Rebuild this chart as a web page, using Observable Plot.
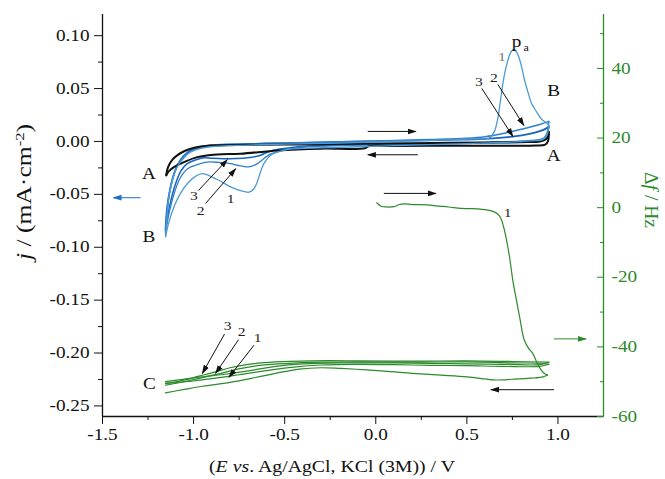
<!DOCTYPE html>
<html><head><meta charset="utf-8">
<script src="https://cdn.jsdelivr.net/npm/d3@7"></script>
<script src="https://cdn.jsdelivr.net/npm/@observablehq/plot@0.6"></script>
<style>body{margin:0;background:#fff}#chart{position:absolute;left:0;top:0}</style>
</head><body><div id="chart"></div>
<script>
// ---------- data (E / V, j / mA cm-2) ----------
const blackFwd = [[-1.15,-0.032],[-1.145,-0.027],[-1.136,-0.0227],[-1.115,-0.017],[-1.09,-0.0132],[-1.055,-0.0095],[-1.016,-0.0069],[-0.96,-0.0048],[-0.907,-0.0038],[-0.7,-0.0032],[-0.5,-0.003],[-0.2,-0.0025],[0.0,-0.002],[0.3,-0.0015],[0.6,-0.001],[0.8,-0.0005],[0.9,0.0],[0.94,0.003],[0.95,0.009]];
const blackRev = [[0.95,0.009],[0.945,0.0],[0.93,-0.003],[0.88,-0.0038],[0.7,-0.004],[0.4,-0.004],[0.1,-0.0042],[-0.04,-0.0045],[-0.06,-0.0065],[-0.3,-0.0068],[-0.54,-0.0085],[-0.742,-0.0116],[-0.87,-0.0123],[-0.98,-0.0148],[-1.053,-0.0196],[-1.108,-0.0243],[-1.135,-0.028],[-1.15,-0.032]];
const cv1Fwd = [[-1.154,-0.090],[-1.145,-0.07],[-1.136,-0.053],[-1.115,-0.036],[-1.09,-0.024],[-1.05,-0.015],[-1.016,-0.010],[-0.96,-0.0065],[-0.907,-0.005],[-0.7,-0.0035],[-0.5,-0.0025],[-0.2,-0.0015],[0.0,-0.0005],[0.2,0.0005],[0.4,0.0015],[0.55,0.0025],[0.62,0.003],[0.65,0.009],[0.67,0.022],[0.687,0.042],[0.705,0.062],[0.724,0.076],[0.74,0.084],[0.757,0.087],[0.775,0.084],[0.797,0.073],[0.815,0.059],[0.833,0.048],[0.855,0.036],[0.879,0.029],[0.91,0.021],[0.943,0.0167],[0.95,0.015]];
const cv1Rev = [[0.95,0.015],[0.94,0.006],[0.92,0.002],[0.85,0.0005],[0.7,-0.001],[0.5,-0.002],[0.2,-0.0035],[0.0,-0.0045],[-0.2,-0.0055],[-0.4,-0.0065],[-0.48,-0.0075],[-0.513,-0.0085],[-0.577,-0.013],[-0.614,-0.021],[-0.635,-0.030],[-0.65,-0.038],[-0.67,-0.045],[-0.696,-0.048],[-0.72,-0.0475],[-0.76,-0.0455],[-0.797,-0.043],[-0.87,-0.036],[-0.952,-0.0305],[-0.99,-0.033],[-1.035,-0.040],[-1.075,-0.050],[-1.108,-0.062],[-1.135,-0.076],[-1.154,-0.090]];
const cv2Fwd = [[-1.154,-0.087],[-1.145,-0.066],[-1.132,-0.048],[-1.11,-0.032],[-1.08,-0.020],[-1.04,-0.012],[-1.0,-0.008],[-0.93,-0.0045],[-0.85,-0.003],[-0.6,-0.002],[-0.3,-0.0008],[0.0,0.0005],[0.3,0.0018],[0.5,0.003],[0.6,0.0045],[0.7,0.0075],[0.8,0.0115],[0.9,0.016],[0.95,0.019]];
const cv2Rev = [[0.95,0.019],[0.94,0.008],[0.92,0.003],[0.85,0.001],[0.6,-0.0008],[0.3,-0.002],[0.0,-0.003],[-0.3,-0.0045],[-0.45,-0.0065],[-0.52,-0.009],[-0.577,-0.0117],[-0.62,-0.017],[-0.65,-0.021],[-0.685,-0.0235],[-0.714,-0.024],[-0.76,-0.0225],[-0.797,-0.021],[-0.86,-0.0198],[-0.925,-0.0195],[-0.98,-0.022],[-1.035,-0.026],[-1.075,-0.035],[-1.108,-0.050],[-1.135,-0.068],[-1.154,-0.087]];
const cv3Fwd = [[-1.154,-0.084],[-1.145,-0.062],[-1.125,-0.042],[-1.10,-0.027],[-1.07,-0.017],[-1.03,-0.010],[-0.99,-0.0065],[-0.92,-0.004],[-0.8,-0.003],[-0.5,-0.0015],[-0.2,-0.0005],[0.1,0.0005],[0.4,0.0015],[0.6,0.0025],[0.75,0.0045],[0.85,0.0075],[0.92,0.011],[0.95,0.014]];
const cv3Rev = [[0.95,0.014],[0.94,0.006],[0.92,0.001],[0.85,-0.0005],[0.6,-0.0015],[0.3,-0.0025],[0.0,-0.003],[-0.3,-0.004],[-0.45,-0.0055],[-0.577,-0.009],[-0.64,-0.0135],[-0.705,-0.0155],[-0.77,-0.0162],[-0.833,-0.0164],[-0.9,-0.016],[-0.943,-0.0155],[-0.99,-0.0175],[-1.035,-0.021],[-1.07,-0.028],[-1.099,-0.040],[-1.13,-0.060],[-1.154,-0.084]];
// ---------- data (E / V, Δf / Hz) ----------
const gFwd1 = [[0.005,1.4],[0.03,0.4],[0.06,0.2],[0.101,0.3],[0.13,0.9],[0.155,1.1],[0.2,0.9],[0.284,0.8],[0.33,0.5],[0.4,0.2],[0.467,-0.2],[0.53,-0.3],[0.614,-0.7],[0.65,-1.2],[0.67,-1.9],[0.687,-3.1],[0.70,-5.2],[0.714,-8.3],[0.734,-14.1],[0.752,-20.8],[0.77,-26],[0.79,-31.5],[0.815,-38.0],[0.84,-40.5],[0.861,-41.8],[0.885,-44.5],[0.907,-46.6],[0.93,-47.8],[0.943,-48.1]];
const gRev1 = [[0.943,-48.1],[0.92,-48.6],[0.85,-49.0],[0.75,-49.3],[0.65,-49.5],[0.6,-49.2],[0.5,-48.6],[0.357,-48.1],[0.2,-47.6],[0.082,-47.1],[-0.05,-46.6],[-0.192,-46.2],[-0.3,-46.0],[-0.42,-46.4],[-0.55,-47.6],[-0.66,-48.8],[-0.8,-50.2],[-0.95,-51.3],[-1.05,-52.2],[-1.154,-53.2]];
const gFwd2 = [[-1.154,-51.0],[-1.08,-50.3],[-1.0,-49.4],[-0.92,-48.4],[-0.85,-47.6],[-0.76,-46.4],[-0.65,-45.4],[-0.5,-44.8],[-0.3,-44.4],[-0.1,-44.3],[0.2,-44.4],[0.5,-44.3],[0.75,-44.6],[0.9,-44.7],[0.95,-45.0]];
const gRev2 = [[0.95,-45.0],[0.9,-45.6],[0.7,-45.6],[0.5,-45.4],[0.3,-45.3],[0.1,-45.1],[-0.1,-45.0],[-0.3,-45.2],[-0.45,-45.8],[-0.6,-46.8],[-0.75,-48.0],[-0.88,-49.0],[-1.0,-49.8],[-1.154,-50.5]];
const gFwd3 = [[-1.154,-50.5],[-1.06,-49.6],[-0.97,-48.4],[-0.88,-47.2],[-0.8,-46.0],[-0.7,-45.0],[-0.55,-44.3],[-0.35,-44.0],[-0.1,-44.0],[0.2,-44.1],[0.5,-44.0],[0.75,-44.2],[0.95,-44.4]];
const gRev3 = [[0.95,-44.4],[0.9,-45.1],[0.7,-45.0],[0.4,-44.8],[0.1,-44.6],[-0.2,-44.6],[-0.4,-44.9],[-0.55,-45.6],[-0.7,-46.9],[-0.85,-48.0],[-0.97,-48.7],[-1.07,-49.4],[-1.154,-50.0]];
// ---------- ticks ----------
const xMajor = [-1.5,-1.0,-0.5,0.0,0.5,1.0];
const xMinor = [-1.25,-0.75,-0.25,0.25,0.75];
const jMajor = [-0.25,-0.20,-0.15,-0.10,-0.05,0.00,0.05,0.10];
const jMinor = [-0.225,-0.175,-0.125,-0.075,-0.025,0.025,0.075];
const fMajor = [-60,-40,-20,0,20,40];
const fMinor = [-50,-30,-10,10,30,50];
// ---------- annotations ----------
const jLabels = [{E:-1.245,v:-0.0305,t:"A"},{E:-1.245,v:-0.0904,t:"B"},{E:0.976,v:-0.0132,t:"A"},{E:0.976,v:0.048,t:"B"}];
const fLabels = [{E:-1.242,v:-50.5,t:"C"}];
const jCycleLabels = [{E:-0.998,v:-0.051,t:"3"},{E:-0.962,v:-0.0652,t:"2"},{E:-0.797,v:-0.0541,t:"1"},{E:0.648,v:0.0605,t:"2"},{E:0.566,v:0.0567,t:"3"}];
const jPeakLabel = [{E:0.692,v:0.0803,t:"1"}];
const fCycleLabels = [{E:0.724,v:-1.6,t:"1"},{E:-0.813,v:-34.0,t:"3"},{E:-0.736,v:-35.7,t:"2"},{E:-0.648,v:-37.4,t:"1"}];
const jArrows = [{E1:-0.044,v1:0.00945,E2:0.220,v2:0.00945},{E1:0.231,v1:-0.0126,E2:-0.044,v2:-0.0126},{E1:-0.973,v1:-0.0463,E2:-0.815,v2:-0.0173},{E1:-0.934,v1:-0.0586,E2:-0.769,v2:-0.0258},{E1:0.670,v1:0.0539,E2:0.813,v2:0.0151},{E1:0.582,v1:0.0501,E2:0.753,v2:0.0047}];
const fArrows = [{E1:0.044,v1:4.1,E2:0.330,v2:4.1},{E1:0.978,v1:-52.3,E2:0.632,v2:-52.3},{E1:-0.830,v1:-36.3,E2:-0.952,v2:-47.6},{E1:-0.753,v1:-37.9,E2:-0.879,v2:-47.6},{E1:-0.668,v1:-39.5,E2:-0.806,v2:-48.7}];
const blueArrow = [{E1:-1.291,v1:-0.0532,E2:-1.440,v2:-0.0532}];
const greenArrow = [{E1:0.978,v1:-37.7,E2:1.154,v2:-37.7}];

const green = "#2b8a2b";
const fToJ = d3.scaleLinear().domain([-60, 55.5]).range([-0.26, 0.12]);
const asJ = arr => arr.map(([E, v]) => ({E, j: v}));
const asF = arr => arr.map(([E, v]) => ({E, j: fToJ(v)}));
const lblJ = arr => arr.map(d => ({...d, j: d.v}));
const lblF = arr => arr.map(d => ({...d, j: fToJ(d.v)}));
const arrJ = arr => arr.map(d => ({...d, j1: d.v1, j2: d.v2}));
const arrF = arr => arr.map(d => ({...d, j1: fToJ(d.v1), j2: fToJ(d.v2)}));

const line = (arr, stroke, w) => Plot.line(arr, {x: "E", y: "j", stroke, strokeWidth: w, curve: "catmull-rom"});
const link = (arr, stroke, cls) => Plot.link(arr, {x1: "E1", y1: "j1", x2: "E2", y2: "j2", stroke, strokeWidth: 1, className: cls});

const plot = Plot.plot({
  width: 665, height: 479,
  marginLeft: 102, marginRight: 62, marginTop: 14, marginBottom: 63,
  style: {fontFamily: "'Liberation Serif', serif", fontSize: "16px", color: "#111", background: "white"},
  x: {domain: [-1.5, 1.25]},
  y: {domain: [-0.26, 0.12]},
  marks: [
    line(asF(gFwd3), green, 1.2), line(asF(gRev3), green, 1.2),
    line(asF(gFwd2), green, 1.2), line(asF(gRev2), green, 1.2),
    line(asF(gFwd1), green, 1.2), line(asF(gRev1), green, 1.2),
    line(asJ(cv3Fwd), "#1565c0", 1.8), line(asJ(cv3Rev), "#1565c0", 1.5),
    line(asJ(cv2Fwd), "#2f7fcc", 1.5), line(asJ(cv2Rev), "#2f7fcc", 1.3),
    line(asJ(blackFwd), "#111", 2), line(asJ(blackRev), "#111", 2),
    line(asJ(cv1Fwd), "#4c9bd6", 1.3), line(asJ(cv1Rev), "#4c9bd6", 1.3),
    link(arrJ(jArrows), "#111", "arr-k"),
    link(arrF(fArrows), "#111", "arr-k"),
    link(arrJ(blueArrow), "#1f6fc6", "arr-b"),
    link(arrF(greenArrow), green, "arr-g"),
    Plot.text(lblJ(jLabels), {x: "E", y: "j", text: "t", fontSize: 16, fill: "#111"}),
    Plot.text(lblF(fLabels), {x: "E", y: "j", text: "t", fontSize: 16, fill: "#111"}),
    Plot.text(lblJ(jCycleLabels), {x: "E", y: "j", text: "t", fontSize: 13, fill: "#222"}),
    Plot.text(lblJ(jPeakLabel), {x: "E", y: "j", text: "t", fontSize: 13, fill: "#777"}),
    Plot.text(lblF(fCycleLabels), {x: "E", y: "j", text: "t", fontSize: 13, fill: "#222"}),
    Plot.text([{E:0.772,j:0.094,t:"p"}], {x: "E", y: "j", text: "t", fontSize: 16, fill: "#111"}),
    Plot.text([{E:0.826,j:0.0885,t:"a"}], {x: "E", y: "j", text: "t", fontSize: 10, fill: "#111"}),
    Plot.ruleX([-1.5], {stroke: "#111", strokeWidth: 1.3}),
    Plot.ruleY([-0.26], {stroke: "#111", strokeWidth: 1.3}),
    Plot.ruleX([1.25], {stroke: green, strokeWidth: 1.3}),
    Plot.axisX({ticks: xMajor, tickSize: 8, tickPadding: 4, tickFormat: d => d.toFixed(1), label: null, stroke: "#111", fill: "#111"}),
    Plot.axisX({ticks: xMinor, tickSize: 4, tickFormat: () => "", label: null, stroke: "#111"}),
    Plot.axisY({ticks: jMajor, tickSize: 8, tickPadding: 5, tickFormat: d => d.toFixed(2), label: null, stroke: "#111", fill: "#111"}),
    Plot.axisY({ticks: jMinor, tickSize: 4, tickFormat: () => "", label: null, stroke: "#111"}),
    Plot.axisY({anchor: "right", ticks: fMajor.map(fToJ), tickSize: 7, dx: -7, tickFormat: () => "", label: null, stroke: green}),
    Plot.axisY({anchor: "right", ticks: fMinor.map(fToJ), tickSize: 4, dx: -4, tickFormat: () => "", label: null, stroke: green}),
    Plot.axisY({anchor: "right", ticks: fMajor.map(fToJ), tickSize: 0, tickPadding: 8, tickFormat: d => String(Math.round(fToJ.invert(d))), label: null, fill: green})
  ]
});
document.getElementById("chart").appendChild(plot);

const svg = d3.select(plot);
// the reference typesetting is ~1.2x wider than tall: widen horizontal text about its anchor
svg.selectAll("text").each(function() {
  const t = d3.select(this);
  if (!t.text()) return;
  const tr = t.attr("transform");
  if (tr) t.attr("transform", tr + " scale(1.2,1)");
  else {
    const x = +t.attr("x") || 0, y = +t.attr("y") || 0;
    t.attr("x", null).attr("y", null).attr("transform", `translate(${x},${y}) scale(1.2,1)`);
  }
});

// arrow heads
const defs = svg.append("defs");
[["ah-k", "#111"], ["ah-b", "#1f6fc6"], ["ah-g", green]].forEach(([id, c]) => {
  defs.append("marker").attr("id", id).attr("viewBox", "0 0 10 10").attr("refX", 9).attr("refY", 5)
    .attr("markerWidth", 9).attr("markerHeight", 9).attr("markerUnits", "userSpaceOnUse").attr("orient", "auto")
    .append("path").attr("d", "M0,1.8L10,5L0,8.2z").attr("fill", c);
});
svg.selectAll(".arr-k path").attr("marker-end", "url(#ah-k)");
svg.selectAll(".arr-b path").attr("marker-end", "url(#ah-b)");
svg.selectAll(".arr-g path").attr("marker-end", "url(#ah-g)");

// axis titles with italics / superscript
const tx = svg.append("text").attr("transform", "translate(332,472) scale(1.2,1)").attr("text-anchor", "middle")
  .attr("font-size", 16.5).attr("fill", "#111");
tx.append("tspan").text("(");
tx.append("tspan").attr("font-style", "italic").text("E");
tx.append("tspan").text(" ");
tx.append("tspan").attr("font-style", "italic").text("vs");
tx.append("tspan").text(". Ag/AgCl, KCl (3M)) / V");

function fitRotated(sel, cx, cy, angle, len) {
  const w = sel.node().getBBox().width || len;
  sel.attr("transform", `translate(${cx},${cy}) rotate(${angle}) scale(${len / w},1)`);
}
const ty = svg.append("text").attr("text-anchor", "middle").attr("font-size", 20).attr("fill", "#111");
ty.append("tspan").attr("font-style", "italic").text("j");
ty.append("tspan").text(" / (mA·cm");
ty.append("tspan").attr("font-size", 13).attr("dy", -7).text("-2");
ty.append("tspan").attr("dy", 7).text(")");
fitRotated(ty, 31, 192, -90, 140);

const tf = svg.append("text").attr("text-anchor", "middle").attr("font-size", 18.5).attr("fill", green);
tf.append("tspan").text("Δ");
tf.append("tspan").attr("font-style", "italic").text("f");
tf.append("tspan").text(" / Hz");
fitRotated(tf, 645, 200, 90, 56);
</script></body></html>
